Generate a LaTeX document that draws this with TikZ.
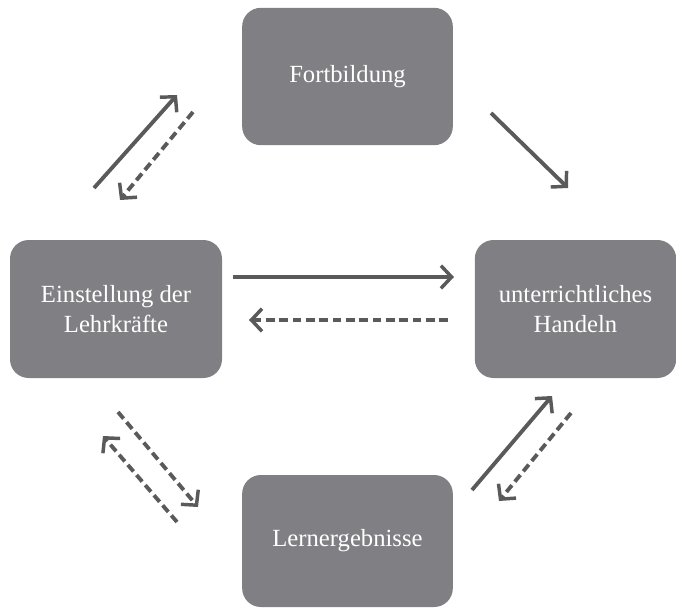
\documentclass[tikz,border=0pt]{standalone}
\usepackage{fontspec}
\setmainfont{Liberation Serif}
\usetikzlibrary{arrows.meta}
\definecolor{boxgray}{HTML}{808084}
\definecolor{arrowgray}{HTML}{5A5A5A}

\begin{document}
\begin{tikzpicture}[x=0.75pt,y=-0.75pt,
  box/.style={fill=boxgray,rounded corners=14pt,text=white,align=center,inner sep=0pt,
    font=\fontsize{18.5}{22.5}\selectfont},
  link/.style={arrowgray,line width=2.9pt,
    -{Straight Barb[length=8pt,width=17pt,line width=2.6pt]}},
  back/.style={link,dash pattern=on 6.5pt off 3.5pt}]
  \useasboundingbox (0,0) rectangle (676,608);

  % the four boxes
  \node[box,minimum width=158pt,minimum height=103pt] (fort) at (347.5,76.5) {Fortbildung};
  \node[box,minimum width=159pt,minimum height=103.5pt] (einst) at (116,309) {Einstellung der\\Lehrkräfte};
  \node[box,minimum width=151pt,minimum height=103.5pt] (hand) at (575.5,309) {unterrichtliches\\Handeln};
  \node[box,minimum width=158pt,minimum height=99pt] (lern) at (347.5,541) {Lernergebnisse};

  % arrow ends
  \coordinate (ef1) at (94,188);   \coordinate (ef2) at (177,95);
  \coordinate (fe1) at (193,112);  \coordinate (fe2) at (120,200);
  \coordinate (fh1) at (491,113);  \coordinate (fh2) at (568,188);
  \coordinate (eh1) at (233,277);  \coordinate (eh2) at (454,277);
  \coordinate (he1) at (448,320);  \coordinate (he2) at (249,320);
  \coordinate (el1) at (118,412);  \coordinate (el2) at (198,507);
  \coordinate (le1) at (177,522);  \coordinate (le2) at (103,436);
  \coordinate (lh1) at (472,490);  \coordinate (lh2) at (552,396);
  \coordinate (hl1) at (571,413);  \coordinate (hl2) at (499,501);

  % solid: effect, dashed: feedback
  \draw[link] (ef1) -- (ef2);
  \draw[back] (fe1) -- (fe2);
  \draw[link] (fh1) -- (fh2);
  \draw[link] (eh1) -- (eh2);
  \draw[back] (he1) -- (he2);
  \draw[back] (el1) -- (el2);
  \draw[back] (le1) -- (le2);
  \draw[link] (lh1) -- (lh2);
  \draw[back] (hl1) -- (hl2);
\end{tikzpicture}
\end{document}
